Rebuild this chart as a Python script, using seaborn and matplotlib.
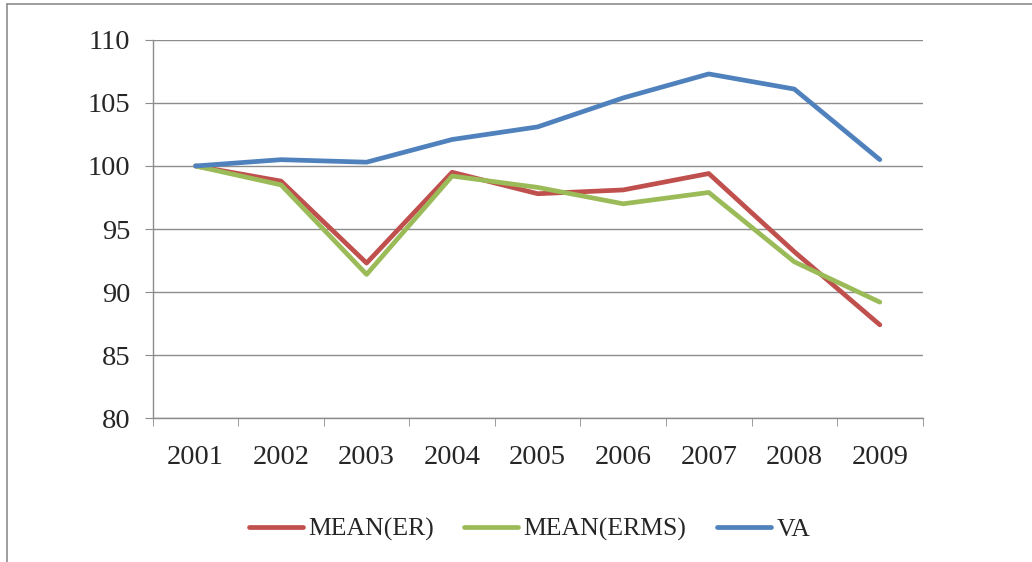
import numpy as np
import pandas as pd
import matplotlib
matplotlib.use('Agg')
import matplotlib.pyplot as plt
from matplotlib.lines import Line2D
import seaborn as sns

years = ['2001', '2002', '2003', '2004', '2005', '2006', '2007', '2008', '2009']
mean_er = [100.0, 98.8, 92.3, 99.5, 97.8, 98.1, 99.4, 93.2, 87.4]
mean_erms = [100.0, 98.5, 91.4, 99.2, 98.3, 97.0, 97.9, 92.4, 89.2]
va = [100.0, 100.5, 100.3, 102.1, 103.1, 105.4, 107.3, 106.1, 100.5]
series_names = ['MEAN(ER)', 'MEAN(ERMS)', 'VA']
colors = ['#C0504D', '#9BBB59', '#4F81BD']
y_ticks = [80, 85, 90, 95, 100, 105, 110]

df = pd.DataFrame({
    'year': years * 3,
    'value': mean_er + mean_erms + va,
    'series': np.repeat(series_names, len(years)),
})
df['pos'] = df['year'].map({y: i for i, y in enumerate(years)})

sns.set_style('white')
plt.rcParams['font.family'] = ['Liberation Serif', 'DejaVu Serif']
fs = 20.5

fig = plt.figure(figsize=(10.32, 5.62), dpi=100)
ax = fig.add_axes([0.148, 0.256, 0.746, 0.673])

sns.lineplot(data=df, x='pos', y='value', hue='series', hue_order=series_names,
             palette=colors, linewidth=3.4, ax=ax, legend=False)

ax.set_xlim(-0.5, len(years) - 0.5)
ax.set_ylim(80, 110)
ax.set_yticks(y_ticks)
ax.set_xticks(range(len(years)))
ax.set_xticklabels(years)
ax.set_xticks(np.arange(-0.5, len(years)), minor=True)
ax.yaxis.grid(True, color='#8c8c8c', linewidth=1.0)
ax.set_axisbelow(True)
for s in ['top', 'right']:
    ax.spines[s].set_visible(False)
for s in ['left', 'bottom']:
    ax.spines[s].set_color('#8c8c8c')
    ax.spines[s].set_linewidth(1.0)
ax.tick_params(axis='y', which='major', length=6, color='#8c8c8c', direction='out',
               left=True, labelsize=fs, pad=10)
ax.tick_params(axis='x', which='major', length=0, labelsize=fs, pad=19)
ax.tick_params(axis='x', which='minor', length=6, color='#8c8c8c', direction='out', bottom=True)
ax.set_xlabel('')
ax.set_ylabel('')

handles = [Line2D([0], [0], color=c, linewidth=3.4, solid_capstyle='round') for c in colors]
fig.legend(handles, series_names, loc='center', bbox_to_anchor=(0.513, 0.058), ncol=3,
           frameon=False, fontsize=18.5, handlelength=2.1, handletextpad=0.2,
           columnspacing=1.2)

# outer chart border (cropped)
fig.add_artist(Line2D([0.007, 1.0], [0.993, 0.993], color='#8c8c8c', linewidth=1.2))
fig.add_artist(Line2D([0.007, 0.007], [0.0, 0.993], color='#8c8c8c', linewidth=1.2))

fig.savefig('out.png', dpi=100)
